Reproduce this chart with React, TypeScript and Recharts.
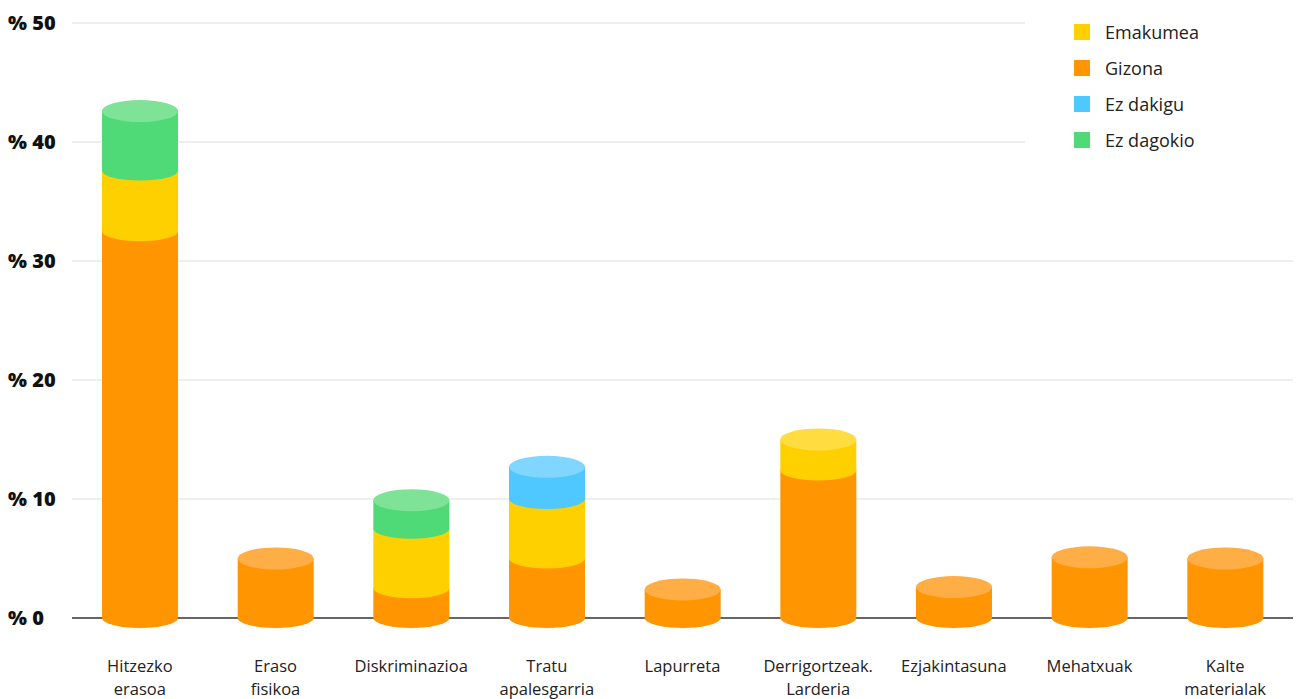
import React from "react";
import {
  BarChart,
  Bar,
  XAxis,
  YAxis,
  CartesianGrid,
  Legend,
} from "recharts";

const categories = [
  "Hitzezko erasoa",
  "Eraso fisikoa",
  "Diskriminazioa",
  "Tratu apalesgarria",
  "Lapurreta",
  "Derrigortzeak. Larderia",
  "Ezjakintasuna",
  "Mehatxuak",
  "Kalte materialak",
];

const gizona = [32.5, 5.0, 2.5, 5.0, 2.4, 12.4, 2.6, 5.1, 5.0];
const emakumea = [5.1, 0, 5.0, 5.0, 0, 2.6, 0, 0, 0];
const ezDakigu = [0, 0, 0, 2.7, 0, 0, 0, 0, 0];
const ezDagokio = [5.0, 0, 2.4, 0, 0, 0, 0, 0, 0];

const yTicks = [0, 10, 20, 30, 40, 50];

const series = [
  { key: "gizona", name: "Gizona", color: "#FF9500", top: "#FFAD45" },
  { key: "emakumea", name: "Emakumea", color: "#FFD000", top: "#FFDC40" },
  { key: "ezDakigu", name: "Ez dakigu", color: "#4FC7FF", top: "#80D6FF" },
  { key: "ezDagokio", name: "Ez dagokio", color: "#50DA77", top: "#7EE397" },
];

const legendOrder = ["emakumea", "gizona", "ezDakigu", "ezDagokio"];

const data = categories.map((name, i) => ({
  name,
  gizona: gizona[i],
  emakumea: emakumea[i],
  ezDakigu: ezDakigu[i],
  ezDagokio: ezDagokio[i],
}));

const FONT = "'Open Sans', sans-serif";

// cylinder segment; the top-most segment of a stack gets the light cap
function makeShape(idx: number) {
  const s = series[idx];
  return (props: any) => {
    const { x, y, width, height, payload } = props;
    if (!height || height <= 0) return <g />;
    const rx = width / 2;
    const cx = x + rx;
    const ry = 10;
    const isTop = series.slice(idx + 1).every((o) => !payload[o.key]);
    return (
      <g>
        <rect x={x} y={y} width={width} height={height} fill={s.color} />
        <ellipse cx={cx} cy={y + height} rx={rx} ry={ry} fill={s.color} />
        {isTop && <ellipse cx={cx} cy={y} rx={rx} ry={ry + 1} fill={s.top} />}
      </g>
    );
  };
}

const YTick = (props: any) => {
  const { y, payload } = props;
  return (
    <text
      x={0}
      y={y}
      dy={7}
      textAnchor="start"
      fontFamily={FONT}
      fontWeight={800}
      fontSize={20}
      fill="#111"
    >
      {"% " + payload.value}
    </text>
  );
};

const XTick = (props: any) => {
  const { x, y, payload } = props;
  const words = String(payload.value).split(" ");
  return (
    <text
      x={x}
      y={y}
      textAnchor="middle"
      fontFamily={FONT}
      fontSize={16.5}
      fill="#222"
    >
      {words.map((w, i) => (
        <tspan key={i} x={x} dy={i === 0 ? 46 : 22.5}>
          {w}
        </tspan>
      ))}
    </text>
  );
};

const gridLine = (props: any) => {
  const { x1, y1, x2, y2, index } = props;
  const isZero = y1 > 600;
  return (
    <line
      key={"h" + index}
      x1={x1}
      y1={y1}
      x2={x2}
      y2={y2}
      stroke={isZero ? "#333" : "#dedede"}
      strokeWidth={isZero ? 1.6 : 1}
    />
  );
};

const LegendBox = () => (
  <div
    style={{
      background: "#fff",
      width: "100%",
      height: "100%",
      paddingTop: 6,
      boxSizing: "border-box",
      fontFamily: FONT,
    }}
  >
    {legendOrder.map((k) => {
      const s = series.find((o) => o.key === k)!;
      return (
        <div
          key={k}
          style={{ display: "flex", alignItems: "center", height: 36 }}
        >
          <span
            style={{
              display: "inline-block",
              width: 16,
              height: 16,
              marginLeft: 49,
              marginRight: 15,
              background: s.color,
            }}
          />
          <span style={{ fontSize: 18, color: "#222" }}>{s.name}</span>
        </div>
      );
    })}
  </div>
);

export default function App() {
  return (
    <BarChart
      width={1285}
      height={692}
      data={data}
      margin={{ top: 15, right: 0, left: 0, bottom: 0 }}
      barSize={76}
    >
      <CartesianGrid vertical={false} horizontal={gridLine} />
      <XAxis
        dataKey="name"
        axisLine={false}
        tickLine={false}
        height={82}
        interval={0}
        tick={<XTick />}
      />
      <YAxis
        domain={[0, 50]}
        ticks={yTicks}
        axisLine={false}
        tickLine={false}
        width={64}
        tick={<YTick />}
      />
      <Legend
        layout="horizontal"
        verticalAlign="middle"
        content={<LegendBox />}
        wrapperStyle={{ top: 0, left: 1017, width: 268, height: 190 }}
      />
      {series.map((s, i) => (
        <Bar
          key={s.key}
          dataKey={s.key}
          name={s.name}
          stackId="a"
          fill={s.color}
          shape={makeShape(i)}
          isAnimationActive={false}
        />
      ))}
    </BarChart>
  );
}
